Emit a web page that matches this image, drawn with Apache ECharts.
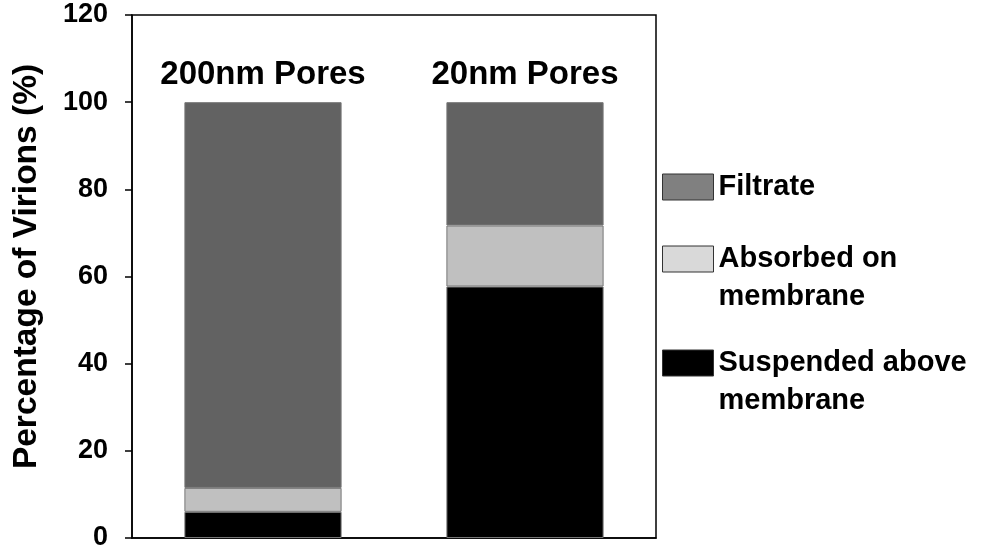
<!DOCTYPE html>
<html>
<head>
<meta charset="utf-8">
<script src="https://cdn.jsdelivr.net/npm/echarts@6/dist/echarts.min.js"></script>
<style>
  html, body { margin: 0; padding: 0; background: #fff; }
  #chart { width: 981px; height: 556px; }
</style>
</head>
<body>
<div id="chart"></div>
<script>
  // data
  var categories = ['200nm Pores', '20nm Pores'];
  var suspended = [6, 57.7];
  var absorbed = [5.5, 14];
  var filtrate = [88.5, 28.3];
  var yTicks = [0, 20, 40, 60, 80, 100, 120];

  var font = "'Liberation Sans', Arial, sans-serif";
  var myChart = echarts.init(document.getElementById('chart'));

  // one legend per entry so the two-line labels can hang below their box
  function legendBox(name, color, top, twoLines) {
    return {
      data: [{ name: name, icon: 'rect', itemStyle: { color: color, borderColor: '#333', borderWidth: 1 } }],
      orient: 'vertical',
      left: 662,
      top: top,
      padding: 0,
      itemWidth: 51,
      itemHeight: 26,
      itemGap: 0,
      selectedMode: false,
      formatter: function (n) { return twoLines ? '\n' + n : n; },
      textStyle: {
        fontFamily: font,
        fontWeight: 'bold',
        fontSize: 29,
        color: '#000',
        lineHeight: 38
      }
    };
  }

  var barBorder = { borderColor: '#777', borderWidth: 1 };

  var option = {
    backgroundColor: '#fff',
    animation: false,
    grid: {
      left: 132, right: 325, top: 15, bottom: 18,
      show: true, borderColor: '#000', borderWidth: 1.5
    },
    legend: [
      legendBox('Filtrate', '#808080', 168, false),
      legendBox('Absorbed on\nmembrane', '#d9d9d9', 202, true),
      legendBox('Suspended above\nmembrane', '#000000', 306, true)
    ],
    xAxis: {
      type: 'category',
      data: categories,
      axisLine: { lineStyle: { color: '#000', width: 1.5 } },
      axisTick: { alignWithLabel: true, length: 7, lineStyle: { color: '#000', width: 1.5 } },
      axisLabel: { show: false }
    },
    yAxis: {
      type: 'value',
      min: 0,
      max: 120,
      interval: 20,
      name: 'Percentage of Virions (%)',
      nameLocation: 'middle',
      nameGap: 88,
      nameTextStyle: {
        fontFamily: font, fontWeight: 'bold', fontSize: 33.5, color: '#000',
        padding: [0, 0, 0, 20]
      },
      axisLine: { show: true, lineStyle: { color: '#000', width: 1.5 } },
      axisTick: { show: true, length: 7, lineStyle: { color: '#000', width: 1.5 } },
      splitLine: { show: false },
      axisLabel: {
        margin: 24,
        fontFamily: font, fontWeight: 'bold', fontSize: 27, color: '#000',
        formatter: function (v) { return yTicks.indexOf(v) >= 0 ? String(v) : ''; }
      }
    },
    series: [
      {
        name: 'Suspended above\nmembrane', type: 'bar', stack: 'total', barWidth: '60%',
        data: suspended,
        itemStyle: Object.assign({ color: '#000000' }, barBorder)
      },
      {
        name: 'Absorbed on\nmembrane', type: 'bar', stack: 'total',
        data: absorbed,
        itemStyle: Object.assign({ color: '#c0c0c0' }, barBorder)
      },
      {
        name: 'Filtrate', type: 'bar', stack: 'total',
        data: filtrate,
        itemStyle: Object.assign({ color: '#626262' }, barBorder),
        label: {
          show: true,
          position: 'top',
          distance: 11,
          fontFamily: font, fontWeight: 'bold', fontSize: 33, color: '#000',
          formatter: function (p) { return p.name; }
        }
      }
    ]
  };
  myChart.setOption(option);
</script>
</body>
</html>
